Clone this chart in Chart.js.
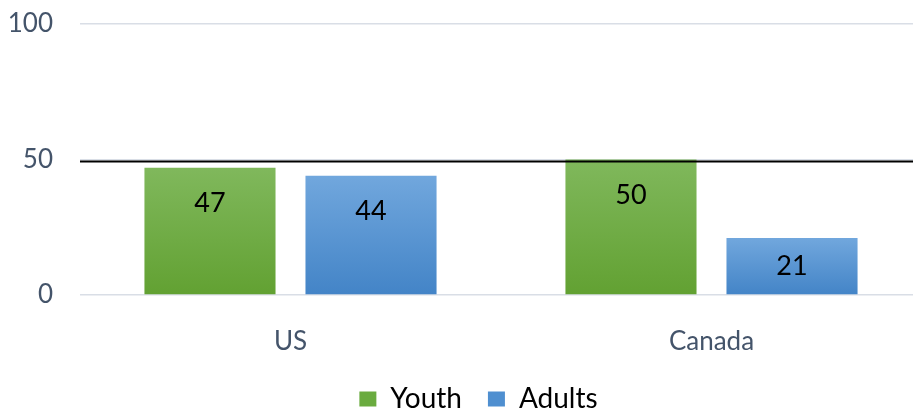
<!DOCTYPE html>
<html>
<head>
<meta charset="utf-8">
<script src="https://cdn.jsdelivr.net/npm/chart.js@4"></script>
<style>
  html, body { margin: 0; padding: 0; background: #fff; }
  #wrap { width: 913px; height: 412px; }
</style>
</head>
<body>
<div id="wrap"><canvas id="chart"></canvas></div>
<script>
// chart data
const categories = ["US", "Canada"];
const youth = [47, 50];
const adults = [44, 21];
const yTicks = [0, 50, 100];
const refLineValue = 50;

const FONT = "Lato, 'Open Sans', sans-serif";

// vertical gradient for each bar, lighter at top
function barGradient(top, bottom) {
    return (ctx) => {
        const chart = ctx.chart;
        if (!chart.chartArea || ctx.type !== "data") return bottom;
        const ys = chart.scales.y;
        const yTop = ys.getPixelForValue(ctx.raw);
        const yBot = ys.getPixelForValue(0);
        const g = chart.ctx.createLinearGradient(0, yTop, 0, yBot);
        g.addColorStop(0, top);
        g.addColorStop(1, bottom);
        return g;
    };
}

// plot area runs a little past the right edge of the canvas,
// legend sits a bit right of centre
const widenArea = {
    id: "widenArea",
    afterLayout(chart) {
        const extra = 9;
        chart.chartArea.right += extra;
        chart.chartArea.width += extra;
        const x = chart.scales.x;
        x.right += extra;
        x.width += extra;
        x.configure();
        chart.scales.y.configure();
        if (chart.legend) {
            chart.legend.left += 22;
            chart.legend.right += 22;
        }
    }
};

// black reference line at 50 (sits just under the gridline)
const refLine = {
    id: "refLine",
    afterDatasetsDraw(chart) {
        const { ctx, chartArea } = chart;
        const y = chart.scales.y.getPixelForValue(refLineValue) + 2;
        ctx.save();
        ctx.strokeStyle = "#000";
        ctx.lineWidth = 2;
        ctx.beginPath();
        ctx.moveTo(chartArea.left, y);
        ctx.lineTo(chartArea.right, y);
        ctx.stroke();
        ctx.restore();
    }
};

// value labels inside the bars
const barLabels = {
    id: "barLabels",
    afterDatasetsDraw(chart) {
        const { ctx } = chart;
        ctx.save();
        ctx.fillStyle = "#000";
        ctx.font = "27px " + FONT;
        ctx.textAlign = "center";
        ctx.textBaseline = "middle";
        chart.data.datasets.forEach((ds, i) => {
            chart.getDatasetMeta(i).data.forEach((bar, j) => {
                const h = bar.base - bar.y;
                const off = Math.min(36, h / 2);
                ctx.fillText(ds.data[j], bar.x, bar.y + off);
            });
        });
        ctx.restore();
    }
};

new Chart(document.getElementById("chart"), {
    type: "bar",
    data: {
        labels: categories,
        datasets: [
            {
                label: "Youth",
                data: youth,
                backgroundColor: barGradient("#80b85c", "#62a132")
            },
            {
                label: "Adults",
                data: adults,
                backgroundColor: barGradient("#71a7dd", "#4384c7")
            }
        ]
    },
    options: {
        responsive: true,
        maintainAspectRatio: false,
        animation: false,
        categoryPercentage: 0.765,
        barPercentage: 0.814,
        layout: { padding: { top: 24, right: 0, left: 0, bottom: -11 } },
        plugins: {
            legend: {
                position: "bottom",
                labels: {
                    color: "#000",
                    font: { size: 28, family: FONT },
                    boxWidth: 17,
                    boxHeight: 15,
                    padding: 26,
                    generateLabels(chart) {
                        const solid = ["#6aab3f", "#4f8fd0"];
                        return chart.data.datasets.map((ds, i) => ({
                            text: ds.label,
                            fillStyle: solid[i],
                            strokeStyle: solid[i],
                            lineWidth: 0,
                            datasetIndex: i,
                            fontColor: "#000"
                        }));
                    }
                }
            },
            tooltip: { enabled: false }
        },
        scales: {
            y: {
                min: 0,
                max: 100,
                afterBuildTicks(axis) {
                    axis.ticks = yTicks.map(v => ({ value: v }));
                },
                afterFit(axis) {
                    axis.width = 80;
                    axis.paddingTop = 0;
                    axis.paddingBottom = 0;
                },
                grid: { color: "#d9dee6", lineWidth: 1.5, drawTicks: false },
                border: { display: false },
                ticks: {
                    color: "#44546a",
                    font: { size: 26, family: FONT },
                    padding: 27
                }
            },
            x: {
                grid: { display: false },
                border: { display: false },
                afterFit(axis) { axis.height = 64; },
                ticks: {
                    color: "#44546a",
                    font: { size: 26, family: FONT },
                    padding: 23
                }
            }
        }
    },
    plugins: [widenArea, refLine, barLabels]
});
</script>
</body>
</html>
